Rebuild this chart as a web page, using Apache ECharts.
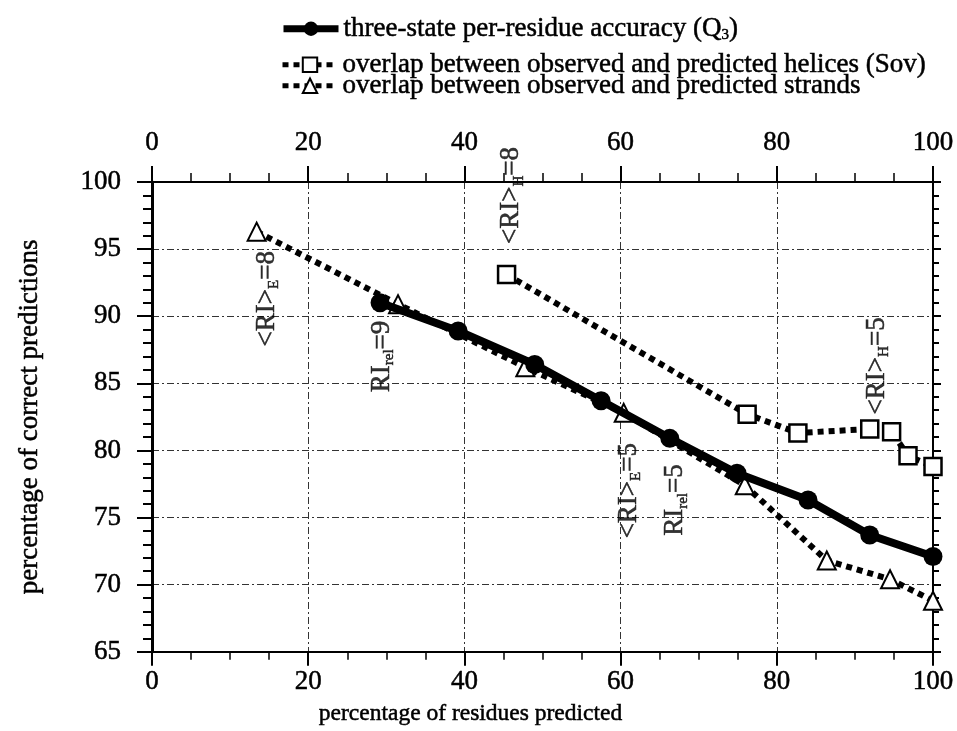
<!DOCTYPE html>
<html>
<head>
<meta charset="utf-8">
<script src="https://cdn.jsdelivr.net/npm/echarts@6/dist/echarts.min.js"></script>
<style>
html,body{margin:0;padding:0;background:#fff;}
#chart{width:957px;height:731px;}
</style>
</head>
<body>
<div id="chart"></div>
<script>
// ---- data ----
var q3X = [29.2, 39.2, 49.0, 57.5, 66.3, 74.9, 84.0, 91.9, 100];
var q3Y = [91.0, 88.9, 86.4, 83.7, 80.9, 78.3, 76.3, 73.7, 72.1];

var helixX = [45.4, 76.2, 82.7, 91.9, 94.7, 96.8, 100];
var helixY = [93.1, 82.7, 81.3, 81.6, 81.4, 79.6, 78.8];

var strandX = [13.4, 31.5, 47.8, 60.4, 75.9, 86.4, 94.5, 100];
var strandY = [96.3, 90.9, 86.2, 82.8, 77.4, 71.8, 70.4, 68.8];

var seriesNames = [
  'three-state per-residue accuracy (Q3)',
  'overlap between observed and predicted helices (Sov)',
  'overlap between observed and predicted strands'
];

var xTicks = [0, 20, 40, 60, 80, 100];
var yTicks = [65, 70, 75, 80, 85, 90, 95, 100];

var annoX = [14.7, 29.4, 46.0, 61.0, 67.0, 92.8];
var annoY = [91.3, 87.0, 99.0, 77.0, 76.3, 86.3];
var annoMain = ['<RI>', 'RI', '<RI>', '<RI>', 'RI', '<RI>'];
var annoSub = ['E', 'rel', 'H', 'E', 'rel', 'H'];
var annoVal = ['=8', '=9', '=8', '=5', '=5', '=5'];

function zip(a, b) { return a.map(function (v, i) { return [v, b[i]]; }); }

var FONT = '"Liberation Serif", "Times New Roman", serif';
var TB = {textBorderColor: '#000', textBorderWidth: 0.5};
function ts(size, extra) {
  var o = {fontFamily: FONT, fontSize: size, color: '#000', textBorderColor: '#000', textBorderWidth: 0.5};
  if (extra) { for (var k in extra) { o[k] = extra[k]; } }
  return o;
}
var chart = echarts.init(document.getElementById('chart'), null, {renderer: 'canvas'});

var gridLine = {show: true, lineStyle: {color: '#333', width: 1, type: [7, 3, 2, 3]}};
var legendLineW = [7, 5, 5];

var option = {
  animation: false,
  backgroundColor: '#fff',
  textStyle: {fontFamily: FONT, color: '#000'},
  grid: {left: 152, right: 24, top: 182, bottom: 77, containLabel: false},
  legend: [0, 1, 2].map(function (i) {
    return {
      data: [seriesNames[i]],
      left: 280,
      top: [15, 51, 72][i],
      padding: 0,
      itemWidth: 55,
      itemHeight: 18,
      itemGap: 0,
      selectedMode: false,
      lineStyle: {width: legendLineW[i]},
      textStyle: ts(27, {
        rich: {s: ts(15, {verticalAlign: 'bottom', lineHeight: 15, padding: [8, 0, 0, 0]})}
      }),
      formatter: function (n) { return n === seriesNames[0] ? 'three-state per-residue accuracy (Q{s|3})' : n; }
    };
  }),
  xAxis: [
    {
      type: 'value', position: 'bottom', min: xTicks[0], max: xTicks[xTicks.length - 1], interval: 20,
      name: 'percentage of residues predicted', nameLocation: 'middle', nameGap: 50,
      nameTextStyle: ts(23.5, {padding: [0, 144, 0, 0]}),
      axisLine: {show: true, onZero: false, lineStyle: {color: '#000', width: 2}},
      axisTick: {show: true, inside: false, length: 14, lineStyle: {color: '#000', width: 2}},
      minorTick: {show: true, splitNumber: 4, length: 8, lineStyle: {color: '#000', width: 1.5}},
      axisLabel: ts(27, {margin: 17}),
      splitLine: gridLine
    },
    {
      type: 'value', position: 'top', min: xTicks[0], max: xTicks[xTicks.length - 1], interval: 20,
      axisLine: {show: true, onZero: false, lineStyle: {color: '#000', width: 2}},
      axisTick: {show: true, inside: false, length: 16, lineStyle: {color: '#000', width: 2}},
      minorTick: {show: true, splitNumber: 4, length: 9, lineStyle: {color: '#000', width: 1.5}},
      axisLabel: ts(27, {margin: 26}),
      splitLine: {show: false}
    }
  ],
  yAxis: [
    {
      type: 'value', position: 'left', min: yTicks[0], max: yTicks[yTicks.length - 1], interval: 5,
      name: 'percentage of correct predictions', nameLocation: 'middle', nameGap: 109,
      nameTextStyle: ts(27),
      axisLine: {show: true, onZero: false, lineStyle: {color: '#000', width: 3}},
      axisTick: {show: true, inside: false, length: 15, lineStyle: {color: '#000', width: 2}},
      minorTick: {show: true, splitNumber: 5, length: 9, lineStyle: {color: '#000', width: 2}},
      axisLabel: ts(27, {margin: 31}),
      splitLine: gridLine
    },
    {
      type: 'value', position: 'right', min: yTicks[0], max: yTicks[yTicks.length - 1], interval: 5,
      axisLine: {show: true, onZero: false, lineStyle: {color: '#000', width: 2}},
      axisTick: {show: true, inside: false, length: 8, lineStyle: {color: '#000', width: 2}},
      minorTick: {show: true, splitNumber: 5, length: 6, lineStyle: {color: '#000', width: 2}},
      axisLabel: {show: false},
      splitLine: {show: false}
    }
  ],
  series: [
    {
      name: seriesNames[2], type: 'line', data: zip(strandX, strandY), z: 3,
      symbol: 'triangle', symbolSize: 18,
      lineStyle: {color: '#000', width: 6, type: [6, 5], cap: 'butt'},
      itemStyle: {color: '#fff', borderColor: '#000', borderWidth: 2}
    },
    {
      name: seriesNames[1], type: 'line', data: zip(helixX, helixY), z: 3,
      symbol: 'rect', symbolSize: 17,
      lineStyle: {color: '#000', width: 6, type: [6, 5], cap: 'butt'},
      itemStyle: {color: '#fff', borderColor: '#000', borderWidth: 2.5}
    },
    {
      name: seriesNames[0], type: 'line', data: zip(q3X, q3Y), z: 4,
      symbol: 'circle', symbolSize: 19,
      lineStyle: {color: '#000', width: 8},
      itemStyle: {color: '#000', borderColor: '#000', borderWidth: 0}
    },
    {
      name: 'annotations', type: 'scatter', z: 5, symbolSize: 0, silent: true,
      data: annoX.map(function (x, i) { return [x, annoY[i]]; }),
      label: {
        show: true, position: 'inside', rotate: 90, color: '#000',
        formatter: function (p) {
          var i = p.dataIndex;
          return '{m|' + annoMain[i] + '}{s|' + annoSub[i] + '}{m|' + annoVal[i] + '}';
        },
        rich: {
          m: ts(27, {lineHeight: 30, verticalAlign: 'middle'}),
          s: ts(15, {lineHeight: 15, verticalAlign: 'bottom', padding: [9, 0, 0, 0]})
        }
      }
    }
  ]
};
chart.setOption(option);
</script>
</body>
</html>
